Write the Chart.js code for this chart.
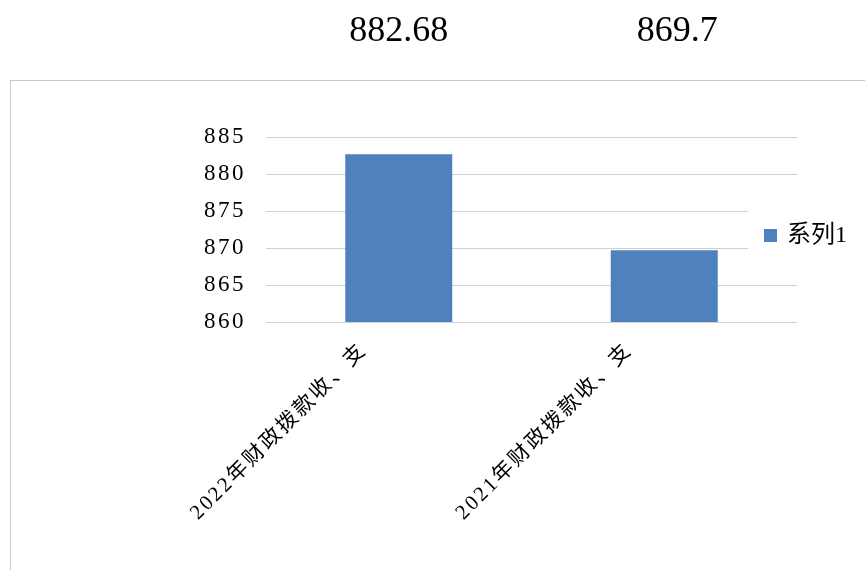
<!DOCTYPE html>
<html>
<head>
<meta charset="utf-8">
<script src="https://cdn.jsdelivr.net/npm/chart.js"></script>
<style>
  body { margin: 0; background: #fff; }
  canvas { display: block; }
</style>
</head>
<body>
<canvas id="myChart" width="865" height="570"></canvas>
<script>
const categories = ['2022年财政拨款收、支', '2021年财政拨款收、支'];
const values = [882.68, 869.7];
const seriesName = '系列1';
const yTicks = [860, 865, 870, 875, 880, 885];
const topLabelShift = [0, 13];

const barColor = '#4f81bd';
const serif = "'Liberation Serif', 'Noto Sans CJK SC'";

// frame, values above the box, legend drawn by hand
const extras = {
  id: 'extras',
  beforeDraw(chart) {
    const c = chart.ctx;
    c.save();
    c.strokeStyle = '#c8c8c8';
    c.lineWidth = 1;
    c.strokeRect(10.5, 80.5, 1000, 1000);
    c.restore();
    c.letterSpacing = '2.5px';
  },
  beforeDatasetsDraw(chart) {
    chart.ctx.letterSpacing = '0px';
  },
  afterDraw(chart) {
    const c = chart.ctx;
    const x = chart.scales.x;
    c.save();
    c.fillStyle = '#000';
    c.font = "36px 'Liberation Serif'";
    c.textAlign = 'center';
    c.textBaseline = 'middle';
    values.forEach(function (v, i) {
      c.fillText(String(v), x.getPixelForValue(i) + topLabelShift[i], 32);
    });

    // legend
    c.fillStyle = '#fff';
    c.fillRect(748, 200, 117, 66);
    c.fillStyle = barColor;
    c.fillRect(764, 229, 13, 13);
    c.fillStyle = '#000';
    c.font = '24px ' + serif;
    c.textAlign = 'left';
    c.fillText(seriesName, 787, 236);
    c.restore();
  }
};

const ctx = document.getElementById('myChart');

chart = new Chart(ctx, {
  type: 'bar',
  data: {
    labels: categories,
    datasets: [{
      label: seriesName,
      data: values,
      backgroundColor: barColor,
      borderWidth: 0,
      categoryPercentage: 1,
      barPercentage: 0.403
    }]
  },
  options: {
    responsive: false,
    animation: false,
    layout: { padding: { left: 0, top: 137, right: 68, bottom: 0 } },
    plugins: {
      legend: { display: false },
      tooltip: { enabled: false }
    },
    scales: {
      x: {
        afterFit: function (s) { s.height = 248; },
        grid: { display: false },
        border: { display: false },
        ticks: {
          color: '#000',
          font: { family: serif, size: 21 },
          minRotation: 45,
          maxRotation: 45,
          labelOffset: -35,
          padding: 8,
          autoSkip: false
        }
      },
      y: {
        min: 860,
        max: 885,
        afterFit: function (s) { s.width = 266; },
        afterBuildTicks: function (s) { s.ticks = yTicks.map(v => ({ value: v })); },
        grid: { color: '#d0d0d0', drawTicks: false },
        border: { display: false },
        ticks: {
          color: '#000',
          font: { family: "'Liberation Serif'", size: 23 },
          padding: 20
        }
      }
    }
  },
  plugins: [extras]
});
</script>
</body>
</html>
